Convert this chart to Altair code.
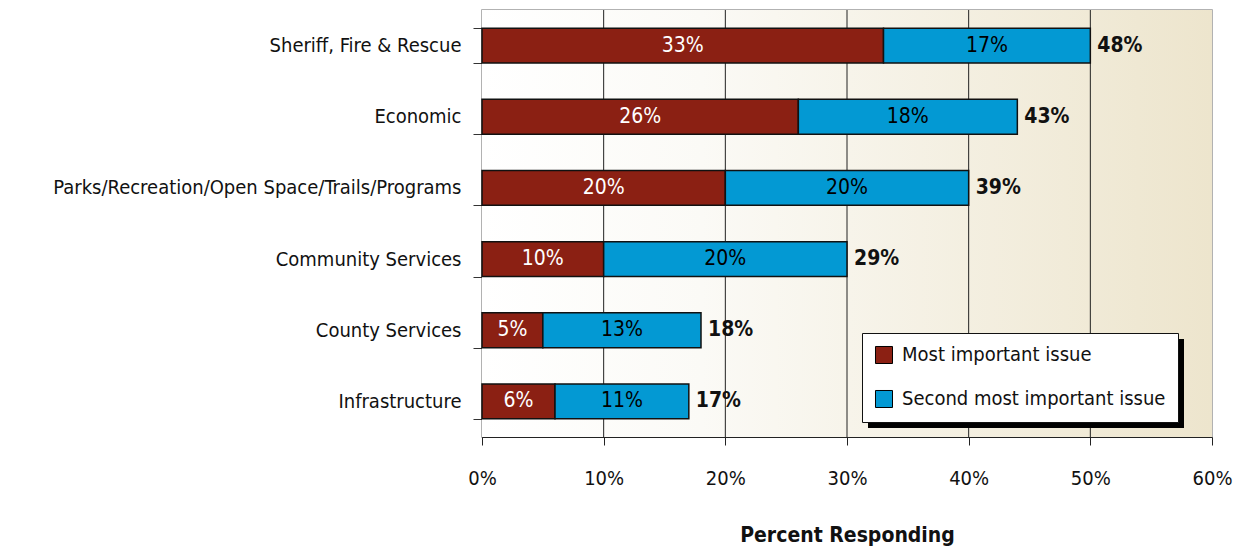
import altair as alt
import pandas as pd

categories = ["Sheriff, Fire & Rescue", "Economic", "Parks/Recreation/Open Space/Trails/Programs",
              "Community Services", "County Services", "Infrastructure"]
series_names = ["Most important issue", "Second most important issue"]
most_important = [33, 26, 20, 10, 5, 6]
second_important = [17, 18, 20, 20, 13, 11]
total_labels = ["48%", "43%", "39%", "29%", "18%", "17%"]
x_ticks = [0, 10, 20, 30, 40, 50, 60]

FONT = "Liberation Sans Narrow, Arial Narrow, DejaVu Sans Condensed, sans-serif"
RED = "#8B2013"
BLUE = "#0399D3"

rows = []
for c, a, b in zip(categories, most_important, second_important):
    rows.append({"category": c, "series": series_names[0], "value": a, "order": 0,
                 "label": f"{a}%", "tcolor": "white"})
    rows.append({"category": c, "series": series_names[1], "value": b, "order": 1,
                 "label": f"{b}%", "tcolor": "black"})
df = pd.DataFrame(rows)

tot = pd.DataFrame({
    "category": categories,
    "end": [a + b for a, b in zip(most_important, second_important)],
    "label": total_labels,
})

W, H = 730, 427

y_enc = alt.Y("category:N", sort=categories, title=None,
              scale=alt.Scale(paddingInner=0.51, paddingOuter=0.255),
              axis=alt.Axis(labelFontSize=20, labelFont=FONT, labelColor="#111",
                            labelLimit=0,
                            tickBand="extent", tickSize=9, tickColor="#333",
                            domainColor="#222", labelPadding=12, grid=False))
x_scale = alt.Scale(domain=[0, 60], nice=False)

background = alt.Chart(pd.DataFrame({"d": [0]})).mark_rect(
    color=alt.Gradient(gradient="linear", x1=0, x2=1, y1=0, y2=0,
                       stops=[alt.GradientStop(offset=0, color="#FFFFFF"),
                              alt.GradientStop(offset=0.3, color="#FBFAF6"),
                              alt.GradientStop(offset=1, color="#EDE5CD")])
).encode(x=alt.value(0), x2=alt.value(W), y=alt.value(0), y2=alt.value(H))

grid = alt.Chart(pd.DataFrame({"t": x_ticks[1:-1]})).mark_rule(
    color="#222", strokeWidth=1
).encode(x=alt.X("t:Q", scale=x_scale))

base = alt.Chart(df).transform_stack(
    stack="value", groupby=["category"], as_=["x0", "x1"],
    sort=[alt.SortField("order", order="ascending")]
).transform_calculate(mid="(datum.x0 + datum.x1) / 2")

bars = base.mark_bar(stroke="#111", strokeWidth=1.5).encode(
    x=alt.X("x0:Q", scale=x_scale,
            axis=alt.Axis(values=x_ticks, labelExpr="datum.value + '%'",
                          labelFontSize=20, labelFont=FONT, labelColor="#111",
                          labelFlush=False,
                          tickSize=8, tickColor="#222", domainColor="#222",
                          labelPadding=23, grid=False,
                          title="Percent Responding", titleFont=FONT,
                          titleFontSize=21, titleFontWeight="bold",
                          titleColor="#111", titlePadding=36)),
    x2="x1:Q",
    y=y_enc,
    color=alt.Color("series:N", sort=series_names,
                    scale=alt.Scale(domain=series_names, range=[RED, BLUE]),
                    legend=alt.Legend(title=None, orient="none", legendX=380, legendY=323,
                                      symbolType="square", symbolSize=290,
                                      symbolStrokeColor="black", symbolStrokeWidth=1,
                                      labelFont=FONT, labelFontSize=20, labelColor="#111",
                                      labelLimit=0,
                                      rowPadding=22, padding=12, labelOffset=8,
                                      fillColor="white", strokeColor="#111")),
)

inner = base.mark_text(fontSize=21, font=FONT).encode(
    x=alt.X("mid:Q", scale=x_scale),
    y=alt.Y("category:N", sort=categories),
    text="label:N",
    color=alt.Color("tcolor:N", scale=None),
)

totals = alt.Chart(tot).mark_text(fontSize=21, font=FONT, fontWeight="bold",
                                  align="left", dx=7, color="#111").encode(
    x=alt.X("end:Q", scale=x_scale),
    y=alt.Y("category:N", sort=categories),
    text="label:N",
)

shadow = alt.Chart(pd.DataFrame({"d": [0]})).mark_rect(color="black").encode(
    x=alt.value(386), x2=alt.value(380 + 316 + 6), y=alt.value(329), y2=alt.value(323 + 89 + 6)
)

chart = alt.layer(background, grid, bars, inner, totals, shadow).properties(
    width=W, height=H,
    autosize=alt.AutoSizeParams(type="none"),
    padding={"left": 474, "top": 2, "right": 22, "bottom": 112},
).configure_view(stroke="#999", strokeWidth=1.5)

chart.save("out.html", embed_options={"renderer": "svg", "actions": False})
